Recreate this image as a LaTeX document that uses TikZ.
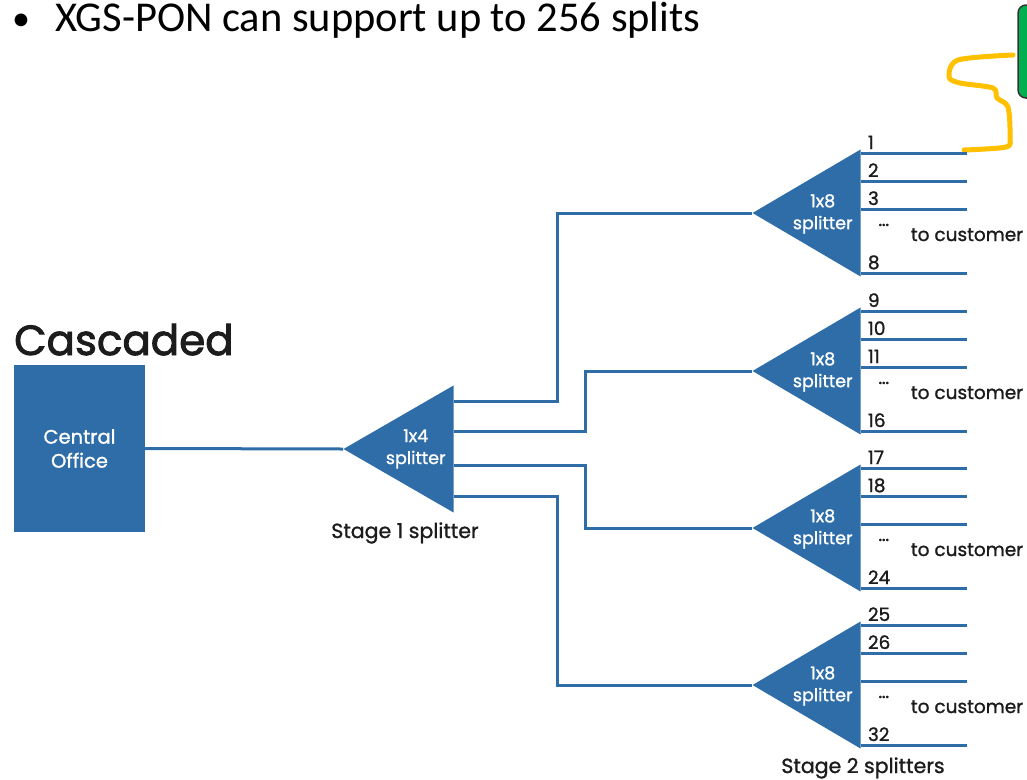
\documentclass[tikz,border=0pt]{standalone}
\usepackage{fontspec}
\setmainfont{Poppins}[FakeBold=1.2]
\newfontfamily\calibri{Carlito}
\newfontfamily\gruesa{Poppins}[FakeBold=2.2]
\usetikzlibrary{positioning,shapes.geometric,calc}
\definecolor{cazul}{HTML}{2E6DA8}
\definecolor{camarillo}{HTML}{FFC000}
\definecolor{cverde}{HTML}{00B050}
\definecolor{ctexto}{HTML}{1C1C1C}
\tikzset{
  divisor/.style={isosceles triangle,isosceles triangle stretches,shape border rotate=180,
                  fill=cazul,inner sep=0pt,minimum width=127pt,minimum height=108pt,anchor=apex},
  fibra/.style={draw=cazul,line width=3pt},
  et/.style={font=\fontsize{18.5}{24}\selectfont,text=ctexto,inner sep=0pt},
  etb/.style={et,font=\fontsize{17.5}{22}\selectfont,text=white,align=center},
  num/.style={et,anchor=base west},
  etapa/.style={et,font=\fontsize{20.5}{24}\selectfont,anchor=base},
}
\begin{document}
\begin{tikzpicture}[x=1pt,y=-1pt]
\path[use as bounding box,clip] (0,0) rectangle (1027,779);

% title line
\node[font=\calibri\fontsize{36}{40}\selectfont,inner sep=0pt,anchor=base] (bul) at (21,30) {•};
\node[font=\calibri\fontsize{42.5}{46}\selectfont,inner sep=0pt,anchor=base west] (tit) at (55,31)
  {XGS-PON can support up to 256 splits};

% note box and hand drawn bracket
\draw[fill=cverde,draw=black!80,line width=1.5pt,rounded corners=8pt] (1018,5) rectangle (1070,98);
\draw[camarillo,line width=5pt,line cap=round,line join=round] plot[smooth,tension=0.5] coordinates
  {(1013,55) (958,60) (949,77) (960,83) (993,88) (997,98) (1008,107) (1010,137) (1006,147) (964,150)};

% central office
\node[et,font=\gruesa\fontsize{42}{46}\selectfont,anchor=base west] (casc) at (14,355) {Cascaded};
\node[etb,font=\fontsize{19.5}{24}\selectfont,fill=cazul,minimum width=131pt,minimum height=167pt]
  (co) at (79.5,448.5) {Central\\Office};

% stage 1
\node[divisor,minimum width=127pt,minimum height=110pt] (d0) at (343,449) {};
\node[etb] (d0t) at ([xshift=-38pt]d0.east) {1x4\\splitter};
\node[etapa] (st1) at (405,538) {Stage 1 splitter};
\draw[fibra] (co.east) -- (d0.apex);

% stage 2
\node[divisor] (d1) at (752,213) {};
\node[divisor] (d2) at (752,371) {};
\node[divisor] (d3) at (752,528) {};
\node[divisor] (d4) at (752,685) {};
\node[etapa] (st2) at (863,773) {Stage 2 splitters};

\draw[fibra] ([yshift=48pt]d0.east) -| ([xshift=-195pt]d1.apex) -- (d1.apex);
\draw[fibra] ([yshift=18pt]d0.east) -| ([xshift=-167pt]d2.apex) -- (d2.apex);
\draw[fibra] ([yshift=-16pt]d0.east) -| ([xshift=-167pt]d3.apex) -- (d3.apex);
\draw[fibra] ([yshift=-47pt]d0.east) -| ([xshift=-195pt]d4.apex) -- (d4.apex);

\foreach \d/\a/\b/\c/\e in {d1/1/2/3/8,d2/9/10/11/16,d3/17/18//24,d4/25/26//32} {
  \node[etb] (\d t) at ([xshift=-38pt,yshift=-1pt]\d.east) {1x8\\splitter};
  \foreach \dy/\n in {60/\a,32/\b,4/\c,-60/\e} {
    \draw[fibra] ([yshift=\dy pt]\d.east) -- ++(106,0);
    \node[num] (\d n\dy) at ([xshift=7pt,yshift=\dy pt+4pt]\d.east) {\n};
  }
  \node[et,anchor=base] (\d p) at ([xshift=23pt,yshift=-13pt]\d.east) {…};
  \node[et,anchor=base west] (\d c) at ([xshift=50pt,yshift=-28pt]\d.east) {to customer};
}
\end{tikzpicture}
\end{document}
